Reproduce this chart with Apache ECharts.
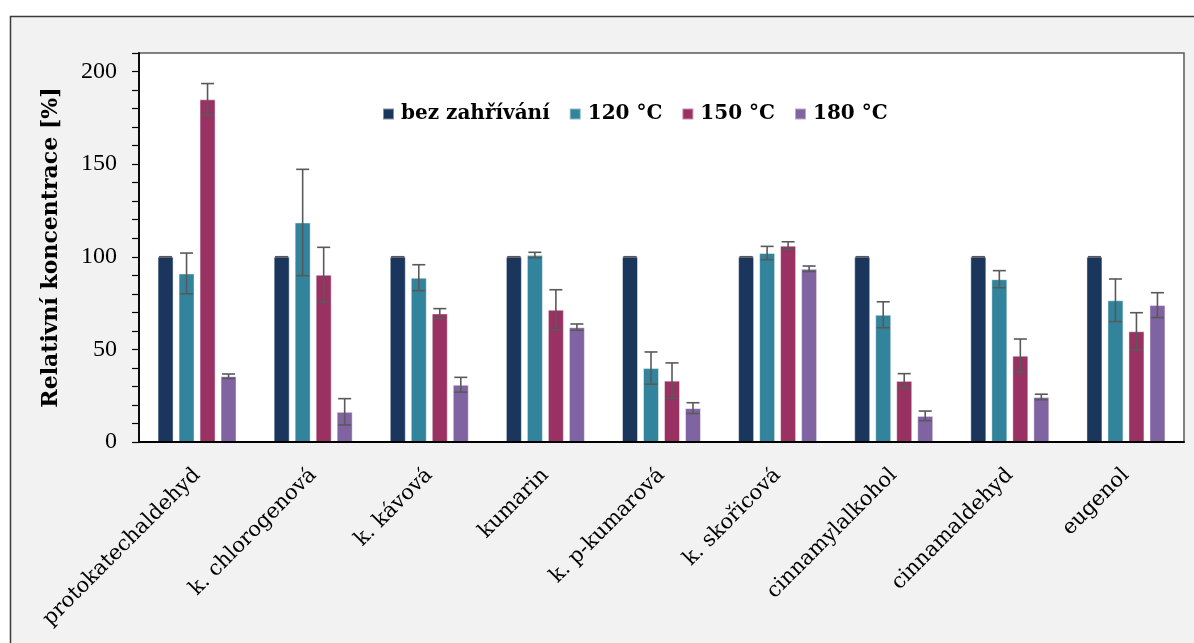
<!DOCTYPE html>
<html>
<head>
<meta charset="utf-8">
<script src="https://cdn.jsdelivr.net/npm/echarts@6/dist/echarts.min.js"></script>
<style>
  html, body { margin: 0; padding: 0; background: #ffffff; }
  #chart { width: 1194px; height: 643px; }
</style>
</head>
<body>
<div id="chart"></div>
<script>
// Compounds on the x axis
const categories = ['protokatechaldehyd', 'k. chlorogenová', 'k. kávová', 'kumarin',
  'k. p-kumarová', 'k. skořicová', 'cinnamylalkohol', 'cinnamaldehyd', 'eugenol'];

// Series names (legend)
const seriesNames = ['bez zahřívání', '120 °C', '150 °C', '180 °C'];

// Relative concentration [%]
const valNoHeat = [100, 100, 100, 100, 100, 100, 100, 100, 100];
const val120 = [91, 118.5, 88.7, 100.9, 39.9, 102, 68.7, 87.9, 76.5];
const val150 = [185, 90.3, 69.4, 71.4, 33.1, 106, 33, 46.6, 59.8];
const val180 = [35.5, 16.3, 30.9, 62, 18.3, 93.5, 14.1, 24.3, 73.9];

// Standard deviations
const errNoHeat = [0, 0, 0, 0, 0, 0, 0, 0, 0];
const err120 = [11, 28.7, 7, 1.5, 8.7, 3.6, 7, 4.6, 11.5];
const err150 = [8.5, 14.8, 2.6, 10.8, 9.6, 2.1, 3.9, 9, 10];
const err180 = [1.2, 7.1, 4, 1.7, 2.9, 1.5, 2.6, 1.5, 6.7];

// Y axis
const yMin = 0;
const yMax = 210;
const yStep = 10;
const yLabelStep = 50;

const values = [valNoHeat, val120, val150, val180];
const errors = [errNoHeat, err120, err150, err180];
const colors = ['#1b365d', '#31849b', '#993162', '#8064a2'];

const FONT = '"DejaVu Serif", "Liberation Serif", serif';
const NUM_FONT = '"Liberation Serif", "DejaVu Serif", serif';
const BAR_W = 16;
const BAR_GAP = 5;
const CAP = 13;

function errorRenderer(idx) {
  return function (params, api) {
    const cat = api.value(0);
    const lo = api.coord([cat, api.value(1)]);
    const hi = api.coord([cat, api.value(2)]);
    const off = (idx - (values.length - 1) / 2) * (BAR_W + BAR_GAP);
    const x = lo[0] + off;
    const style = { stroke: '#595959', lineWidth: 1.6 };
    return {
      type: 'group',
      children: [
        { type: 'line', shape: { x1: x, y1: hi[1], x2: x, y2: lo[1] }, style: style },
        { type: 'line', shape: { x1: x - CAP / 2, y1: hi[1], x2: x + CAP / 2, y2: hi[1] }, style: style },
        { type: 'line', shape: { x1: x - CAP / 2, y1: lo[1], x2: x + CAP / 2, y2: lo[1] }, style: style }
      ]
    };
  };
}

const series = [];
values.forEach(function (vals, i) {
  series.push({
    name: seriesNames[i],
    type: 'bar',
    data: vals,
    barWidth: BAR_W,
    barGap: (BAR_GAP / BAR_W * 100) + '%',
    itemStyle: { color: colors[i], borderColor: 'rgba(255,255,255,0.45)', borderWidth: 1 },
    z: 2
  });
});
values.forEach(function (vals, i) {
  series.push({
    name: seriesNames[i] + ' SD',
    type: 'custom',
    renderItem: errorRenderer(i),
    data: vals.map(function (v, k) { return [k, v - errors[i][k], v + errors[i][k]]; }),
    encode: { x: 0, y: [1, 2] },
    z: 5,
    silent: true
  });
});

const chart = echarts.init(document.getElementById('chart'), null, { renderer: 'canvas' });
chart.setOption({
  animation: false,
  backgroundColor: '#ffffff',
  textStyle: { fontFamily: FONT, color: '#000000' },
  graphic: [{
    type: 'rect',
    z: -10,
    shape: { x: 10.5, y: 16.5, width: 1200, height: 700 },
    style: { fill: '#f2f2f2', stroke: '#3a3a3a', lineWidth: 1.5 }
  }],
  grid: {
    left: 139, right: 10, top: 53, bottom: 201,
    show: true,
    backgroundColor: '#ffffff',
    borderColor: '#595959',
    borderWidth: 1.5
  },
  legend: {
    data: seriesNames,
    left: 382,
    top: 104,
    padding: 0,
    icon: 'rect',
    itemWidth: 11,
    itemHeight: 11,
    itemGap: 19,
    textStyle: { fontFamily: FONT, fontSize: 20, fontWeight: 'bold', color: '#000000', padding: [0, 0, 0, 2] }
  },
  xAxis: {
    type: 'category',
    data: categories,
    axisLine: { lineStyle: { color: '#000000', width: 1.8 } },
    axisTick: { show: false },
    axisLabel: {
      rotate: 45,
      margin: 30,
      interval: 0,
      fontFamily: FONT,
      fontSize: 21,
      color: '#000000'
    },
    z: 10
  },
  yAxis: {
    type: 'value',
    min: yMin,
    max: yMax,
    interval: yStep,
    name: 'Relativní koncentrace [%]',
    nameLocation: 'middle',
    nameGap: 77,
    nameTextStyle: { fontFamily: FONT, fontSize: 22, fontWeight: 'bold', color: '#000000' },
    axisLine: { show: true, lineStyle: { color: '#000000', width: 1.8 } },
    axisTick: { show: true, inside: false, length: 7, lineStyle: { color: '#000000', width: 1.2 } },
    splitLine: { show: false },
    axisLabel: {
      margin: 22,
      fontFamily: NUM_FONT,
      fontSize: 24,
      color: '#000000',
      formatter: function (v) { return v % yLabelStep === 0 ? String(v) : ''; }
    },
    z: 10
  },
  series: series
});
</script>
</body>
</html>
